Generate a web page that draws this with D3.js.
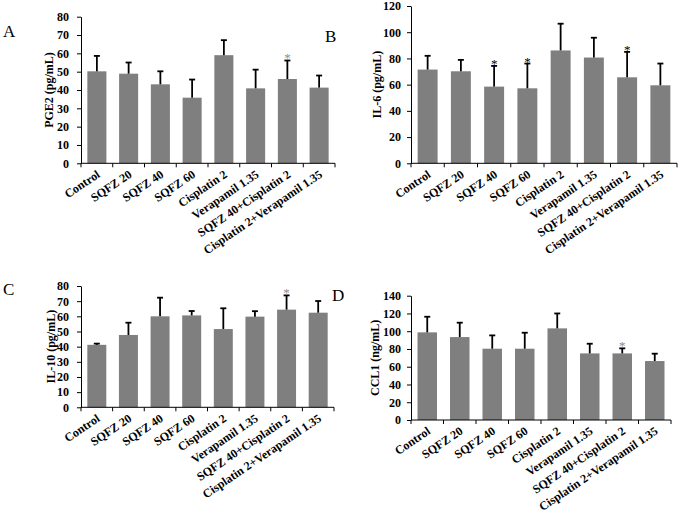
<!DOCTYPE html>
<html><head><meta charset="utf-8">
<script src="https://cdn.jsdelivr.net/npm/d3@7"></script>
<style>
html,body{margin:0;padding:0;background:#fff;}
svg{display:block;}
svg text{font-family:"Times New Roman","Liberation Serif",Tinos,serif;}
</style></head>
<body>
<svg id="c" width="678" height="524"></svg>
<script>
const categories = ["Control","SQFZ 20","SQFZ 40","SQFZ 60","Cisplatin 2","Verapamil 1.35","SQFZ 40+Cisplatin 2","Cisplatin 2+Verapamil 1.35"];

const pge2Mean = [50.2, 48.9, 43.1, 35.8, 59.0, 40.9, 46.0, 41.3];
const pge2Upper = [58.6, 55.0, 50.2, 45.7, 67.2, 51.1, 56.1, 47.9];
const pge2Star = [0,0,0,0,0,0,1,0];
const pge2Ticks = [0,10,20,30,40,50,60,70,80];

const il6Mean = [71.5, 70.2, 58.5, 57.2, 86.1, 80.7, 65.6, 59.5];
const il6Upper = [82.0, 78.9, 74.3, 76.1, 106.5, 95.8, 85.0, 76.1];
const il6Star = [0,0,1,1,0,0,1,0];
const il6Ticks = [0,20,40,60,80,100,120];

const il10Mean = [41.2, 47.7, 60.0, 60.6, 51.6, 59.8, 64.4, 62.4];
const il10Upper = [42.0, 55.8, 72.3, 63.5, 65.3, 63.4, 73.8, 70.1];
const il10Star = [0,0,0,0,0,0,1,0];
const il10Ticks = [0,10,20,30,40,50,60,70,80];

const ccl1Mean = [98.7, 93.4, 80.3, 80.3, 103.2, 75.0, 75.0, 66.4];
const ccl1Upper = [116.3, 109.6, 95.3, 98.3, 120.0, 85.9, 80.7, 74.7];
const ccl1Star = [0,0,0,0,0,0,1,0];
const ccl1Ticks = [0,20,40,60,80,100,120,140];

const panelLetters = ["A","B","C","D"];
const yTitles = ["PGE2 (pg/mL)","IL-6 (pg/mL)","IL-10 (pg/mL)","CCL1 (ng/mL)"];

const svg = d3.select("#c");

const panels = [
  {mean:pge2Mean, upper:pge2Upper, star:pge2Star, ticks:pge2Ticks, x0:81, x1:335, yTop:16.7, yBot:163.3,
   letter:{x:3,y:37}, titleX:49, starColor:"#8c8c8c", labelGap:12},
  {mean:il6Mean, upper:il6Upper, star:il6Star, ticks:il6Ticks, x0:411, x1:677, yTop:6, yBot:163.3,
   letter:{x:325,y:42}, titleX:377, starColor:"#000", labelGap:10},
  {mean:il10Mean, upper:il10Upper, star:il10Star, ticks:il10Ticks, x0:81, x1:334, yTop:286, yBot:407.3,
   letter:{x:3,y:295}, titleX:51, starColor:"#8c8c8c", labelGap:12},
  {mean:ccl1Mean, upper:ccl1Upper, star:ccl1Star, ticks:ccl1Ticks, x0:411, x1:671, yTop:295.7, yBot:420,
   letter:{x:332,y:301}, titleX:375, starColor:"#8c8c8c", labelGap:10}
];

panels.forEach((p, pi) => {
  const g = svg.append("g");
  const x = d3.scaleBand().domain(categories).range([p.x0, p.x1]).paddingInner(0.4).paddingOuter(0.2);
  const y = d3.scaleLinear().domain([0, d3.max(p.ticks)]).range([p.yBot, p.yTop]);
  const step = x.step();

  g.selectAll("rect.bar").data(categories).join("rect")
    .attr("x", d => x(d)).attr("width", x.bandwidth())
    .attr("y", (d,i) => y(p.mean[i])).attr("height", (d,i) => p.yBot - y(p.mean[i]))
    .attr("fill", "#7f7f7f");

  categories.forEach((c, i) => {
    const cx = x(c) + x.bandwidth()/2;
    g.append("line").attr("x1", cx).attr("x2", cx).attr("y1", y(p.mean[i])).attr("y2", y(p.upper[i]))
      .attr("stroke", "#000").attr("stroke-width", 1.8);
    g.append("line").attr("x1", cx-3).attr("x2", cx+3).attr("y1", y(p.upper[i])).attr("y2", y(p.upper[i]))
      .attr("stroke", "#000").attr("stroke-width", 1.8);
    if (p.star[i]) {
      g.append("text").attr("x", cx).attr("y", y(p.upper[i]) + 2).attr("text-anchor","middle")
        .attr("font-size", 13).attr("fill", p.starColor).text("*");
    }
  });

  const yAxis = d3.axisLeft(y).tickValues(p.ticks).tickSize(4).tickSizeOuter(0).tickPadding(p.labelGap-4);
  const ya = g.append("g").attr("transform", `translate(${p.x0},0)`).call(yAxis);
  ya.attr("font-family", null);
  ya.selectAll("text").attr("font-size", 12).attr("font-weight", "bold").attr("fill","#000");
  ya.selectAll("line,path").attr("stroke", "#000");

  g.append("line").attr("x1", p.x0).attr("x2", p.x1).attr("y1", p.yBot).attr("y2", p.yBot).attr("stroke","#000");
  d3.range(categories.length + 1).forEach(k => {
    const tx = p.x0 + k*step;
    g.append("line").attr("x1", tx).attr("x2", tx).attr("y1", p.yBot).attr("y2", p.yBot+4).attr("stroke","#000");
  });

  g.selectAll("text.cat").data(categories).join("text")
    .attr("class","cat")
    .attr("transform", d => `translate(${x(d) + x.bandwidth()/2 + 4},${p.yBot + 13}) rotate(-34)`)
    .attr("text-anchor","end").attr("font-size", 12).attr("font-weight","bold").text(d => d);

  g.append("text").attr("transform", `translate(${p.titleX},${(p.yTop+p.yBot)/2}) rotate(-90)`)
    .attr("text-anchor","middle").attr("dominant-baseline","central")
    .attr("font-size", 12).attr("font-weight","bold").text(yTitles[pi]);

  g.append("text").attr("x", p.letter.x).attr("y", p.letter.y).attr("font-size", 17).text(panelLetters[pi]);
});
</script>
</body></html>
